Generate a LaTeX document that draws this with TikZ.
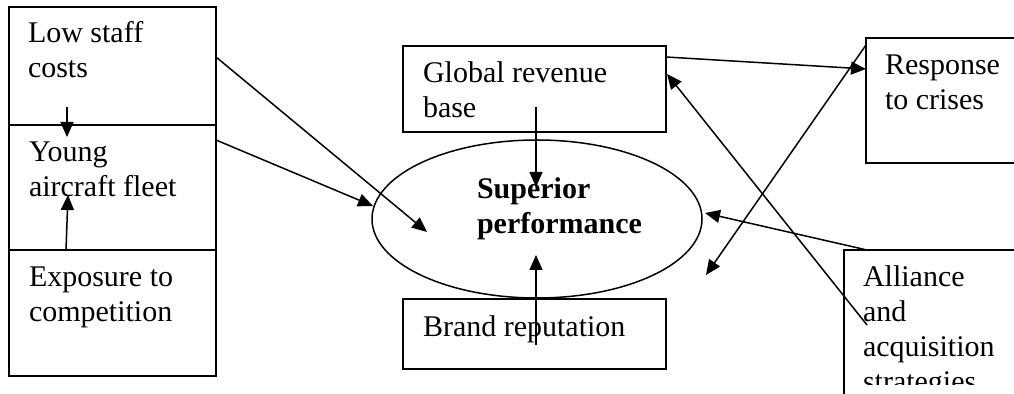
\documentclass[tikz,border=0pt]{standalone}
\usepackage{fontspec}
\setmainfont{Liberation Serif}
\usetikzlibrary{arrows.meta,shapes.geometric,calc}
\begin{document}
\begin{tikzpicture}[x=0.5pt,y=-0.5pt,
  box/.style={draw,line width=0.75pt,inner sep=0pt,outer sep=0pt,anchor=north west,rectangle},
  txt/.style={inner sep=0pt,outer sep=0pt,anchor=north west,align=left,font=\fontsize{15}{17.5}\selectfont},
  arr/.style={line width=0.75pt,-{Triangle[length=7.5pt,width=6.5pt]}}]
\useasboundingbox (0,0) rectangle (1014,394);
\clip (0,0) rectangle (1014,394);
% boxes
\node[box,minimum width=103.5pt,minimum height=59pt] (low) at (9,7) {};
\node[box,minimum width=103.5pt,minimum height=62.5pt] (young) at (9,125) {};
\node[box,minimum width=103.5pt,minimum height=63pt] (expo) at (9,250) {};
\node[box,minimum width=131.5pt,minimum height=43pt] (glob) at (403,46) {};
\node[box,minimum width=131.5pt,minimum height=35pt] (brand) at (403,299) {};
\node[box,minimum width=90pt,minimum height=62.5pt] (resp) at (866,38) {};
\node[box,minimum width=100pt,minimum height=90pt] (alli) at (844,250) {};
\node[draw,ellipse,line width=0.75pt,minimum width=165pt,minimum height=79pt,inner sep=0pt] (perf) at (537,219) {};
% texts
\node[txt] (lowt) at (28,19) {\rule{0pt}{12pt}Low staff\\costs};
\node[txt] (youngt) at (29,138) {\rule{0pt}{12pt}Young\\aircraft fleet};
\node[txt] (expot) at (29,263) {\rule{0pt}{12pt}Exposure to\\competition};
\node[txt] (globt) at (423,59) {\rule{0pt}{12pt}Global revenue\\base};
\node[txt] (brandt) at (423,313) {\rule{0pt}{12pt}Brand reputation};
\node[txt] (respt) at (885,51) {\rule{0pt}{12pt}Response\\to crises};
\node[txt,font=\fontsize{15}{17.5}\selectfont\bfseries] (perft) at (477,175) {\rule{0pt}{12pt}Superior\\performance};
\begin{scope}
\clip (0,0) rectangle (1014,385);
\node[txt] (allit) at (863,263) {\rule{0pt}{12pt}Alliance\\and\\acquisition\\strategies};
\end{scope}
% connector end points
\coordinate (c1s) at (67,107);  \coordinate (c1e) at (67,137);
\coordinate (c2s) at (66,250);  \coordinate (c2e) at (68,195);
\coordinate (c3s) at (216,57);  \coordinate (c3e) at (427,232);
\coordinate (c4s) at (216,140); \coordinate (c4e) at (373,206);
\coordinate (c5s) at (536,107); \coordinate (c5e) at (536,187);
\coordinate (c6s) at (536,345); \coordinate (c6e) at (536,255);
\coordinate (c7s) at (666,57);  \coordinate (c7e) at (866,69);
\coordinate (c8s) at (867,325); \coordinate (c8e) at (667,74);
\coordinate (c9s) at (866,45);  \coordinate (c9e) at (706,275);
\coordinate (c10s) at (867,250); \coordinate (c10e) at (705,213);
% connectors
\draw[arr] (c1s) -- (c1e);
\draw[arr] (c2s) -- (c2e);
\draw[arr] (c3s) -- (c3e);
\draw[arr] (c4s) -- (c4e);
\draw[arr] (c5s) -- (c5e);
\draw[arr] (c6s) -- (c6e);
\draw[arr] (c7s) -- (c7e);
\draw[arr] (c8s) -- (c8e);
\draw[arr] (c9s) -- (c9e);
\draw[arr] (c10s) -- (c10e);
\end{tikzpicture}
\end{document}
